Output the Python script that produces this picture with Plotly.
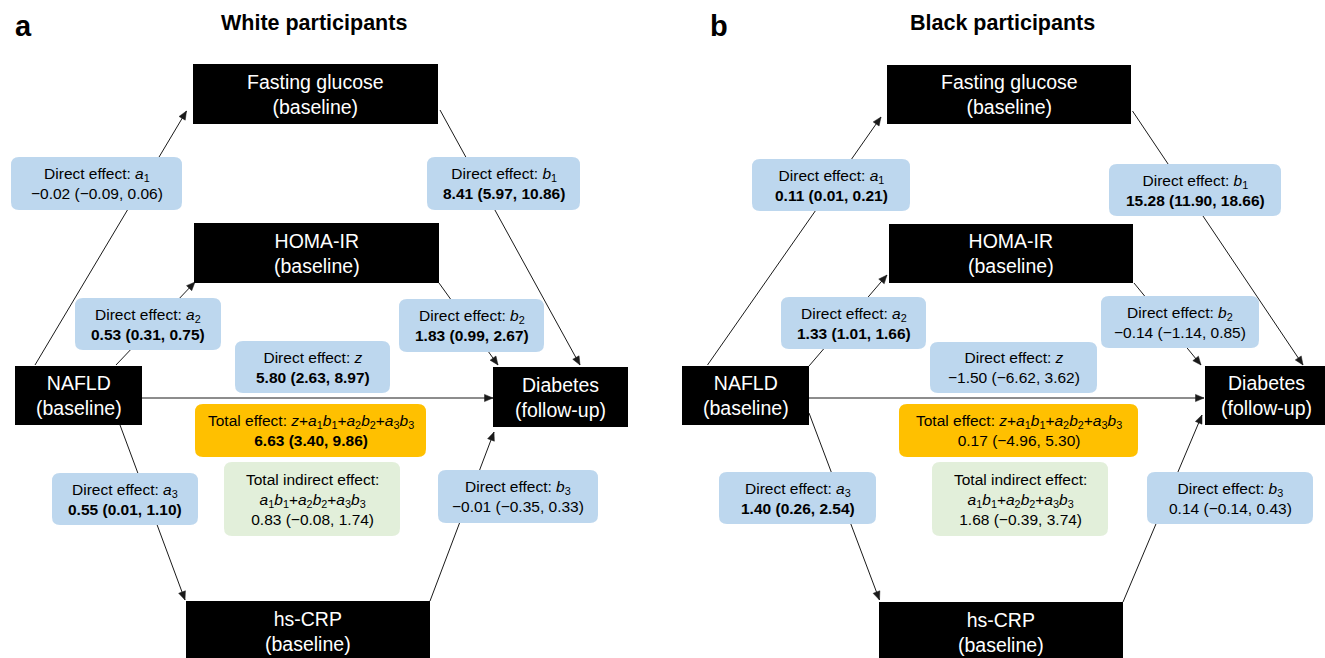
import plotly.graph_objects as go

MINUS = "\u2212"

# ---------------- data ----------------
effect_keys = ["a1", "b1", "a2", "b2", "z", "a3", "b3"]

white_est = [-0.02, 8.41, 0.53, 1.83, 5.80, 0.55, -0.01]
white_low = [-0.09, 5.97, 0.31, 0.99, 2.63, 0.01, -0.35]
white_high = [0.06, 10.86, 0.75, 2.67, 8.97, 1.10, 0.33]
white_total = [6.63, 3.40, 9.86]
white_indirect = [0.83, -0.08, 1.74]

black_est = [0.11, 15.28, 1.33, -0.14, -1.50, 1.40, 0.14]
black_low = [0.01, 11.90, 1.01, -1.14, -6.62, 0.26, -0.14]
black_high = [0.21, 18.66, 1.66, 0.85, 3.62, 2.54, 0.43]
black_total = [0.17, -4.96, 5.30]
black_indirect = [1.68, -0.39, 3.74]

node_keys = ["fg", "homa", "nafld", "diab", "crp"]
node_names = ["Fasting glucose", "HOMA-IR", "NAFLD", "Diabetes", "hs-CRP"]
node_subs = ["(baseline)", "(baseline)", "(baseline)", "(follow-up)", "(baseline)"]

panel_titles = ["White participants", "Black participants"]
panel_letters = ["a", "b"]

# ---------------- geometry (layout only) ----------------
FONT = "Liberation Sans, Arial, Helvetica, sans-serif"
BLUE = "#BDD7EE"
ORANGE = "#FFC000"
GREEN = "#E2EFDA"
LINE = "#1a1a1a"

geom = [
    dict(
        title_xy=(314, 23), letter_xy=(23, 26),
        nodes=dict(fg=(193, 438, 64, 124), homa=(194, 439, 223, 283),
                   nafld=(15, 142, 366, 425), diab=(493, 628, 367, 427),
                   crp=(186, 430, 601, 670)),
        boxes=dict(a1=(11, 182, 157, 210), b1=(427, 580, 157, 210),
                   a2=(75, 221, 298, 350), b2=(399, 544, 299, 352),
                   z=(235, 390, 341, 393), a3=(52, 198, 473, 525),
                   b3=(438, 598, 470, 523), total=(195, 426, 404, 457),
                   indirect=(224, 400, 462, 536)),
        arrows=[((35, 365), (186.5, 111)), ((116, 365), (195, 282)),
                ((440, 110), (580, 365)), ((439, 283), (498, 365)),
                ((142, 398), (493, 398)), ((120, 425), (185, 600)),
                ((430, 601), (494, 432))],
    ),
    dict(
        title_xy=(1002, 23), letter_xy=(719, 26),
        nodes=dict(fg=(887, 1131, 65, 124), homa=(889, 1133, 224, 283),
                   nafld=(682, 809, 366, 425), diab=(1205, 1327, 366, 425),
                   crp=(879, 1123, 602, 670)),
        boxes=dict(a1=(752, 910, 159, 211), b1=(1109, 1281, 164, 216),
                   a2=(781, 926, 297, 349), b2=(1101, 1259, 296, 348),
                   z=(930, 1097, 342, 393), a3=(719, 876, 472, 524),
                   b3=(1147, 1313, 472, 524), total=(899, 1138, 404, 457),
                   indirect=(932, 1108, 462, 536)),
        arrows=[((707.5, 365), (881, 117)), ((809, 366), (887, 275)),
                ((1132.5, 111), (1303, 365)), ((1134, 283), (1201, 365)),
                ((809, 398), (1204, 398)), ((809, 413), (879.5, 600)),
                ((1123, 602), (1202, 415))],
    ),
]


def fmt(v):
    s = f"{abs(v):.2f}"
    return (MINUS + s) if v < 0 else s


def ci_text(est, lo, hi):
    t = f"{fmt(est)} ({fmt(lo)}, {fmt(hi)})"
    if lo > 0 or hi < 0:
        t = f"<b>{t}</b>"
    return t


def sym(k):
    if k == "z":
        return "<i>z</i>"
    return f"<i>{k[0]}</i><sub>{k[1]}</sub>"


def rrect(x0, x1, y0, y1, r=8):
    return (f"M{x0 + r},{y0} L{x1 - r},{y0} Q{x1},{y0} {x1},{y0 + r} "
            f"L{x1},{y1 - r} Q{x1},{y1} {x1 - r},{y1} L{x0 + r},{y1} "
            f"Q{x0},{y1} {x0},{y1 - r} L{x0},{y0 + r} Q{x0},{y0} {x0 + r},{y0} Z")


def head_path(hx, hy, tx, ty, length=8.5, half=3.6):
    dx, dy = tx - hx, ty - hy
    n = (dx * dx + dy * dy) ** 0.5
    ux, uy = dx / n, dy / n
    bx, by = hx + ux * length, hy + uy * length
    px, py = -uy * half, ux * half
    return (f"M{hx:.2f},{hy:.2f} L{bx + px:.2f},{by + py:.2f} "
            f"L{bx - px:.2f},{by - py:.2f} Z")


fig = go.Figure()
shapes = []
annotations = []

panels = [
    (white_est, white_low, white_high, white_total, white_indirect),
    (black_est, black_low, black_high, black_total, black_indirect),
]

indirect_sym = "+".join(sym(f"a{i}") + sym(f"b{i}") for i in (1, 2, 3))
total_sym = sym("z") + "+" + indirect_sym

for p, (est, lo, hi, tot, ind) in enumerate(panels):
    g = geom[p]
    # connector lines (under the boxes) and arrow heads
    for (tx, ty), (hx, hy) in g["arrows"]:
        shapes.append(dict(type="line", x0=tx, y0=ty, x1=hx, y1=hy,
                           xref="x", yref="y", layer="below",
                           line=dict(color=LINE, width=1)))
        shapes.append(dict(type="path", path=head_path(hx, hy, tx, ty),
                           xref="x", yref="y", layer="below",
                           fillcolor=LINE, line=dict(color=LINE, width=0.5)))
    # node boxes
    for k, name, sub in zip(node_keys, node_names, node_subs):
        x0, x1, y0, y1 = g["nodes"][k]
        shapes.append(dict(type="rect", x0=x0, x1=x1, y0=y0, y1=y1,
                           xref="x", yref="y", layer="above",
                           fillcolor="black", line=dict(width=0)))
        yc = (y0 + min(y1, y0 + 60)) / 2
        annotations.append(dict(x=(x0 + x1) / 2, y=yc, xref="x", yref="y",
                                text=f"{name}<br>{sub}", showarrow=False,
                                font=dict(family=FONT, size=19.5, color="white"),
                                xanchor="center", yanchor="middle"))
    # effect boxes
    for i, k in enumerate(effect_keys):
        x0, x1, y0, y1 = g["boxes"][k]
        shapes.append(dict(type="path", path=rrect(x0, x1, y0, y1), xref="x", yref="y",
                           layer="above", fillcolor=BLUE, line=dict(width=0)))
        annotations.append(dict(x=(x0 + x1) / 2, y=(y0 + y1) / 2, xref="x", yref="y",
                                text=f"Direct effect: {sym(k)}<br>{ci_text(est[i], lo[i], hi[i])}",
                                showarrow=False, font=dict(family=FONT, size=15.5, color="black"),
                                xanchor="center", yanchor="middle"))
    x0, x1, y0, y1 = g["boxes"]["total"]
    shapes.append(dict(type="path", path=rrect(x0, x1, y0, y1), xref="x", yref="y",
                       layer="above", fillcolor=ORANGE, line=dict(width=0)))
    annotations.append(dict(x=(x0 + x1) / 2, y=(y0 + y1) / 2, xref="x", yref="y",
                            text=f"Total effect: {total_sym}<br>{ci_text(*tot)}",
                            showarrow=False, font=dict(family=FONT, size=15.5, color="black"),
                            xanchor="center", yanchor="middle"))
    x0, x1, y0, y1 = g["boxes"]["indirect"]
    shapes.append(dict(type="path", path=rrect(x0, x1, y0, y1), xref="x", yref="y",
                       layer="above", fillcolor=GREEN, line=dict(width=0)))
    annotations.append(dict(x=(x0 + x1) / 2, y=(y0 + y1) / 2, xref="x", yref="y",
                            text=f"Total indirect effect:<br>{indirect_sym}<br>{ci_text(*ind)}",
                            showarrow=False, font=dict(family=FONT, size=15.5, color="black"),
                            xanchor="center", yanchor="middle"))
    # titles
    tx, ty = g["title_xy"]
    annotations.append(dict(x=tx, y=ty, xref="x", yref="y", text=f"<b>{panel_titles[p]}</b>",
                            showarrow=False, font=dict(family=FONT, size=21.5, color="black"),
                            xanchor="center", yanchor="middle"))
    lx, ly = g["letter_xy"]
    annotations.append(dict(x=lx, y=ly, xref="x", yref="y", text=f"<b>{panel_letters[p]}</b>",
                            showarrow=False, font=dict(family=FONT, size=29, color="black"),
                            xanchor="center", yanchor="middle"))

fig.update_layout(
    width=1325, height=658, autosize=False,
    margin=dict(l=0, r=0, t=0, b=0),
    paper_bgcolor="white", plot_bgcolor="white",
    xaxis=dict(range=[0, 1325], visible=False, fixedrange=True),
    yaxis=dict(range=[658, 0], visible=False, fixedrange=True),
    shapes=shapes, annotations=annotations, showlegend=False,
)

fig.write_html("out.html", post_script="document.body.style.margin='0';",
               config={"displayModeBar": False})
